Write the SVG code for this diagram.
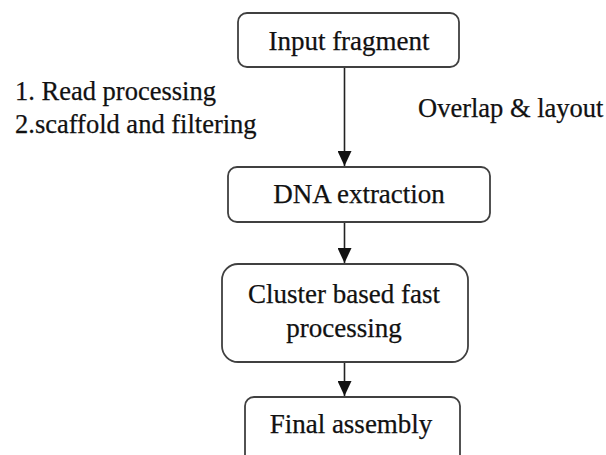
<svg xmlns="http://www.w3.org/2000/svg" width="606" height="455" viewBox="0 0 606 455">
<defs>
<style>
.box{fill:#fff;stroke:#404040;stroke-width:1.8}
.t{font-family:"Liberation Serif","Times New Roman",serif;font-size:27px;fill:#111;stroke:#111;stroke-width:0.25}
.s{font-size:26.5px}
.c{text-anchor:middle}
.ln{stroke:#222;stroke-width:1.6;fill:none}
</style>
<marker id="ah" markerWidth="15" markerHeight="14" refX="15" refY="7" orient="auto" markerUnits="userSpaceOnUse">
<path d="M0,0 L15,7 L0,14 Z" fill="#111"/>
</marker>
</defs>
<rect width="606" height="455" fill="#fff"/>
<g id="connectors">
<line class="ln" x1="344.5" y1="67" x2="344.5" y2="166" marker-end="url(#ah)"/>
<line class="ln" x1="344.5" y1="222" x2="344.5" y2="263" marker-end="url(#ah)"/>
<line class="ln" x1="344.5" y1="362" x2="344.5" y2="396" marker-end="url(#ah)"/>
</g>
<g id="input-fragment">
<rect class="box" x="238" y="13" width="221" height="54" rx="9"/>
<text class="t c" x="349" y="50">Input fragment</text>
</g>
<g id="dna-extraction">
<rect class="box" x="228" y="167" width="262" height="55" rx="9"/>
<text class="t c" x="359" y="203">DNA extraction</text>
</g>
<g id="cluster">
<rect class="box" x="222" y="264" width="246" height="98" rx="16"/>
<text class="t c" x="344" y="303">Cluster based fast</text>
<text class="t c" x="344" y="337">processing</text>
</g>
<g id="final-assembly">
<rect class="box" x="245" y="397" width="215" height="70" rx="9"/>
<text class="t c" x="351" y="433">Final assembly</text>
</g>
<g id="labels">
<text class="t s" x="15" y="100">1. Read processing</text>
<text class="t s" x="15" y="133">2.scaffold and filtering</text>
<text class="t s" x="418" y="117">Overlap &amp; layout</text>
</g>
</svg>
